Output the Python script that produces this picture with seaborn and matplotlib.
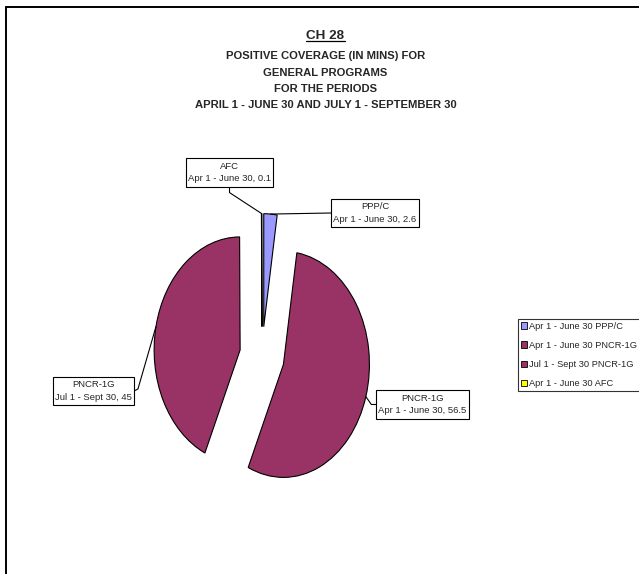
import matplotlib
matplotlib.use("Agg")
import numpy as np
import matplotlib.pyplot as plt
import seaborn as sns
from matplotlib.lines import Line2D
from matplotlib.patches import Patch, Rectangle

# ---- data ----
categories = ["PPP/C", "PNCR-1G", "PNCR-1G", "AFC"]
periods = ["Apr 1 - June 30", "Apr 1 - June 30", "Jul 1 - Sept 30", "Apr 1 - June 30"]
values = [2.6, 56.5, 45, 0.1]
legend_labels = ["Apr 1 - June 30 PPP/C", "Apr 1 - June 30 PNCR-1G",
                 "Jul 1 - Sept 30 PNCR-1G", "Apr 1 - June 30 AFC"]
colors = ["#9999FF", "#993366", "#993366", "#FFFF00"]
title_main = "CH 28"
title_lines = ["POSITIVE COVERAGE (IN MINS) FOR", "GENERAL PROGRAMS",
               "FOR THE PERIODS", "APRIL 1 - JUNE 30 AND JULY 1 - SEPTEMBER 30"]

# ---- style ----
sns.set_theme(style="white")
plt.rcParams["font.family"] = ["Liberation Sans", "DejaVu Sans"]

W, H = 639, 574
fig = plt.figure(figsize=(W / 100, H / 100), dpi=100)
fig.patch.set_facecolor("white")

# pie axes (elliptical pie via non-equal aspect)
ax = fig.add_axes([90 / W, 48.5 / H, 344 / W, 339 / H])
wedges, _ = ax.pie(values, colors=colors, startangle=90, counterclock=False,
                   explode=[0.26] * len(values),
                   wedgeprops=dict(edgecolor="black", linewidth=0.8))
ax.set_aspect("auto")
ax.set_xlim(-2, 2)
ax.set_ylim(-1.5, 1.5)
ax.axis("off")

# chart frame (top-left corner visible)
fr = fig.transFigure
fig.add_artist(Line2D([6 / W, 6 / W], [-0.02, 1 - 7 / H], transform=fr, color="black", lw=1.4))
fig.add_artist(Line2D([6 / W, 1.02], [1 - 7 / H, 1 - 7 / H], transform=fr, color="black", lw=1.4))

# titles
cx = 325.5 / W
t_main = fig.text(cx, 1 - 39 / H, title_main, ha="center", va="baseline",
                  fontsize=9.7, fontweight="bold")
for y, line in zip([59.3, 76.5, 92.5, 108.5], title_lines):
    fig.text(cx, 1 - y / H, line, ha="center", va="baseline", fontsize=8.1, fontweight="bold")

# data labels (box centres in pixels from top-left, side the leader leaves from)
label_pos = [(375, 213, "left"), (422.5, 404.5, "left"), (93.5, 391, "right"), (229.5, 172.5, "bottom")]
texts = []
for cat, per, v, (px, py, side) in zip(categories, periods, values, label_pos):
    t = fig.text(px / W, 1 - py / H, f"{cat}\n{per}, {v:g}", ha="center", va="center",
                 multialignment="center", fontsize=6.8, linespacing=1.45, zorder=5)
    texts.append((t, side))

# legend
handles = [Patch(facecolor=c, edgecolor="black", linewidth=0.6) for c in colors]
leg = fig.legend(handles, legend_labels, loc="upper left",
                 bbox_to_anchor=(518 / W, 1 - 319 / H), frameon=True, fancybox=False,
                 fontsize=6.7, handlelength=0.65, handleheight=0.65, handletextpad=0.25,
                 borderpad=0.3, labelspacing=1.08, borderaxespad=0)
leg.get_frame().set_edgecolor("black")
leg.get_frame().set_linewidth(0.8)

fig.canvas.draw()
r = fig.canvas.get_renderer()
inv = fig.transFigure.inverted()

# underline title
bb = t_main.get_window_extent(r)
ys = t_main.get_transform().transform((0, 1 - 39 / H))[1] - 2
p0 = inv.transform((bb.x0, ys)); p1 = inv.transform((bb.x1, ys))
fig.add_artist(Line2D([p0[0], p1[0]], [p0[1], p1[1]], transform=fr, color="black", lw=0.9))

# label boxes and leader lines from boxes to wedges
pad_x, pad_y = 2.0, 3.5
for i, ((t, side), w) in enumerate(zip(texts, wedges)):
    tb = t.get_window_extent(r)
    x0, y0, x1, y1 = tb.x0 - pad_x, tb.y0 - pad_y, tb.x1 + pad_x, tb.y1 + pad_y
    q0 = inv.transform((x0, y0)); q1 = inv.transform((x1, y1))
    fig.add_artist(Rectangle(q0, q1[0] - q0[0], q1[1] - q0[1], transform=fr,
                             facecolor="white", edgecolor="black", lw=0.8, zorder=4))
    th = np.deg2rad((w.theta1 + w.theta2) / 2)
    anchor = ax.transData.transform((w.center[0] + w.r * np.cos(th), w.center[1] + w.r * np.sin(th)))
    if side == "left":
        a = (x0, (y0 + y1) / 2); e = (a[0] - 5, a[1])
    elif side == "right":
        a = (x1, (y0 + y1) / 2); e = (a[0] + 4, a[1] + 2)
    else:
        a = ((x0 + x1) / 2, y0); e = (a[0], a[1] - 6)
    pts = [a, e, tuple(anchor)] if i != 0 else [a, tuple(anchor)]
    fp = inv.transform(np.array(pts))
    fig.add_artist(Line2D(fp[:, 0], fp[:, 1], transform=fr, color="black", lw=0.8, zorder=3))

fig.savefig("out.png", dpi=100)
